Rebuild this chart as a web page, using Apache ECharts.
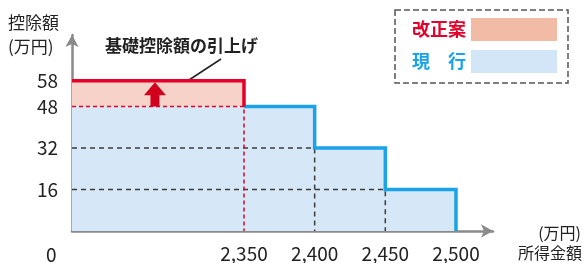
<!DOCTYPE html>
<html>
<head>
<meta charset="utf-8">
<script src="https://cdn.jsdelivr.net/npm/echarts@6/dist/echarts.min.js"></script>
<style>
  html, body { margin: 0; padding: 0; background: #fff; }
  #chart { width: 584px; height: 263px; }
</style>
</head>
<body>
<div id="chart"></div>
<script>
// 所得金額 (万円) brackets and 基礎控除額 (万円)
const incomeTicks = [2350, 2400, 2450, 2500];
const currentDeduction = [48, 48, 32, 16];   // 現行: deduction up to each bracket
const revisedDeduction = [58, 48, 32, 16];   // 改正案: deduction up to each bracket
const deductionTicks = [16, 32, 48, 58];
const xMin = 2228.3, xMax = 2526.2;
const arrowAt = 2287;

const FONT = '"Noto Sans CJK JP", "Noto Sans", sans-serif';
const RED = '#e4002b';
const BLUE = '#1aa3e6';

// corner points of a stepped line: value holds until the bracket, then drops
function steps(values, startX, fromIdx) {
  const pts = [[startX, values[fromIdx]]];
  for (let i = fromIdx; i < incomeTicks.length; i++) {
    pts.push([incomeTicks[i], values[i]]);
    pts.push([incomeTicks[i], i + 1 < values.length ? values[i + 1] : 0]);
  }
  return pts;
}

const revisedLine = [[xMin, revisedDeduction[0]], [incomeTicks[0], revisedDeduction[0]], [incomeTicks[0], revisedDeduction[1]]];
const revisedArea = [[xMin, revisedDeduction[0]], [incomeTicks[0], revisedDeduction[0]], [incomeTicks[0], 0]];
const currentArea = steps(currentDeduction, xMin, 1);
const currentLine = steps(currentDeduction, incomeTicks[0], 1);
const oldLevelDash = [[xMin, currentDeduction[0]], [incomeTicks[0], currentDeduction[0]], [incomeTicks[0], 0]];
const guide32 = [[xMin, currentDeduction[2]], [incomeTicks[1], currentDeduction[2]], [incomeTicks[1], 0]];
const guide16 = [[xMin, currentDeduction[3]], [incomeTicks[2], currentDeduction[3]], [incomeTicks[2], 0]];

let chart = echarts.init(document.getElementById('chart'));
chart.setOption({
  animation: false,
  textStyle: { fontFamily: FONT },
  grid: { left: 72, right: 91, top: 35, bottom: 26 },
  legend: {
    orient: 'vertical',
    left: 395, top: 10,
    padding: [8, 11, 10, 17],
    itemGap: 9,
    itemWidth: 86, itemHeight: 23,
    align: 'right',
    icon: 'rect',
    selectedMode: false,
    borderColor: '#555', borderWidth: 1.5, borderType: 'dashed',
    textStyle: { fontSize: 18, fontWeight: 'bold', width: 70, fontFamily: FONT },
    data: [
      { name: '改正案', textStyle: { color: RED }, itemStyle: { color: '#f2bba6' } },
      { name: '現　行', textStyle: { color: BLUE }, itemStyle: { color: '#d3e6f8' } }
    ]
  },
  xAxis: {
    type: 'value', min: xMin, max: xMax,
    splitLine: { show: false },
    axisTick: { show: false },
    axisLine: { lineStyle: { color: '#8a8a8a', width: 2.5 }, symbol: ['none', 'arrow'], symbolSize: [10, 12] },
    axisLabel: {
      customValues: incomeTicks,
      margin: 13,
      fontSize: 19,
      formatter: v => v.toLocaleString('en-US'),
      color: v => (v === incomeTicks[0] ? RED : '#222')
    }
  },
  yAxis: {
    type: 'value', min: 0, max: 75.6,
    splitLine: { show: false },
    axisTick: { show: false },
    axisLine: { lineStyle: { color: '#8a8a8a', width: 2.5 }, symbol: ['none', 'arrow'], symbolSize: [10, 12] },
    axisLabel: {
      customValues: deductionTicks,
      margin: 14,
      fontSize: 19,
      color: v => (v === 58 ? RED : '#222')
    }
  },
  series: [
    {
      name: '改正案', type: 'line', data: revisedArea, z: 1,
      symbol: 'none', lineStyle: { width: 0 },
      itemStyle: { color: '#f2bba6' },
      areaStyle: { color: '#f7d2c8', opacity: 1 }
    },
    {
      name: '現　行', type: 'line', data: currentArea, z: 2,
      symbol: 'none', lineStyle: { width: 0 },
      itemStyle: { color: '#d3e6f8' },
      areaStyle: { color: '#d6e7f7', opacity: 1 }
    },
    {
      type: 'line', data: guide32, z: 3, symbol: 'none',
      lineStyle: { color: '#3c3c3c', width: 1.5, type: [5, 4] }
    },
    {
      type: 'line', data: guide16, z: 3, symbol: 'none',
      lineStyle: { color: '#3c3c3c', width: 1.5, type: [5, 4] }
    },
    {
      type: 'line', data: oldLevelDash, z: 4, symbol: 'none',
      lineStyle: { color: RED, width: 1.5, type: [4, 3] }
    },
    {
      type: 'line', data: currentLine, z: 5, symbol: 'none',
      lineStyle: { color: BLUE, width: 3.5, join: 'miter' }
    },
    {
      type: 'line', data: revisedLine, z: 6, symbol: 'none',
      lineStyle: { color: RED, width: 3.5, join: 'miter' }
    },
    {
      type: 'custom', z: 7,
      data: [[arrowAt, 48, 57.4]],
      renderItem: (params, api) => {
        const base = api.coord([api.value(0), api.value(1)]);
        const tip = api.coord([api.value(0), api.value(2)]);
        const x = base[0], headBase = tip[1] + 13;
        return {
          type: 'polygon',
          shape: {
            points: [
              [x - 4.5, base[1]], [x - 4.5, headBase], [x - 11, headBase],
              [x, tip[1]], [x + 11, headBase], [x + 4.5, headBase], [x + 4.5, base[1]]
            ]
          },
          style: { fill: '#d2001f' }
        };
      }
    }
  ],
  graphic: [
    { type: 'text', left: 8, top: 14, style: { text: '控除額', fontSize: 17, fill: '#222', fontFamily: FONT } },
    { type: 'text', left: 8, top: 38, style: { text: '(万円)', fontSize: 17, fill: '#222', fontFamily: FONT } },
    { type: 'text', left: 105, top: 37, style: { text: '基礎控除額の引上げ', fontSize: 17, fontWeight: 'bold', fill: '#222', fontFamily: FONT } },
    { type: 'line', shape: { x1: 221, y1: 59, x2: 189, y2: 80 }, style: { stroke: '#222', lineWidth: 1.5 } },
    { type: 'text', left: 46, top: 245, style: { text: '0', fontSize: 19, fill: '#222', fontFamily: FONT } },
    { type: 'text', right: 3, top: 225, style: { text: '(万円)', fontSize: 16, fill: '#222', fontFamily: FONT } },
    { type: 'text', right: 2, top: 245, style: { text: '所得金額', fontSize: 16, fill: '#222', fontFamily: FONT } }
  ]
});
</script>
</body>
</html>
